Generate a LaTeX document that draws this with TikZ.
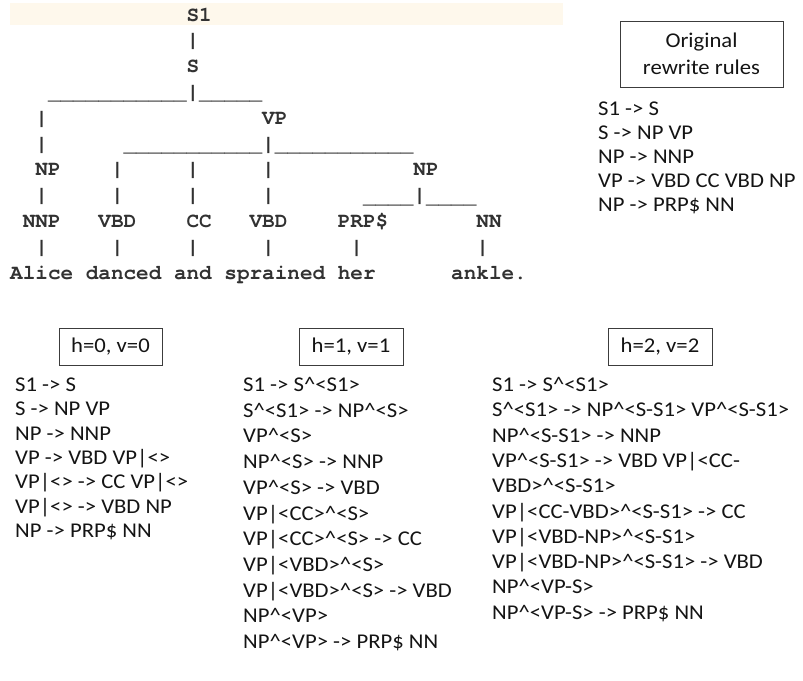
\documentclass[tikz,border=0pt]{standalone}
\usepackage{graphicx}
\usepackage{fontspec}
\setmainfont{Carlito}[FakeStretch=1.08]
\newfontfamily\treefont{TeX Gyre Cursor}
\newcommand\crt{\textasciicircum}
\newcommand\vb{|}
\newcommand\us{\raisebox{-1.5pt}{\_}}
\definecolor{strip}{RGB}{254,248,236}
\definecolor{treeink}{RGB}{50,50,50}
\definecolor{ruleink}{RGB}{20,20,20}
\definecolor{boxline}{RGB}{60,60,60}
\begin{document}
\begin{tikzpicture}[x=1pt,y=-1pt,
  treetxt/.style={anchor=base west,inner sep=0pt,text=treeink,font=\treefont\bfseries\fontsize{21}{21}\selectfont},
  ruletxt/.style={anchor=base west,inner sep=0pt,text=ruleink,font=\fontsize{21}{24}\selectfont},
  labelbox/.style={draw=boxline,line width=1pt,inner sep=0pt,align=center,text=ruleink,font=\fontsize{21}{27}\selectfont}]
\fill[white] (0,0) rectangle (803,680);
\useasboundingbox (0,0) rectangle (803,680);
\fill[strip] (10,3) rectangle (563,25);
% ASCII parse tree
\foreach \c/\l/\t [count=\n] in {
  14/0/S1, 14/1/\vb, 14/2/S,
  3/3/\us\us\us\us\us\us\us\us\us\us\us\vb\us\us\us\us\us,
  2/4/\vb, 20/4/VP,
  2/5/\vb, 9/5/\us\us\us\us\us\us\us\us\us\us\us\vb\us\us\us\us\us\us\us\us\us\us\us,
  2/6/NP, 8/6/\vb, 14/6/\vb, 20/6/\vb, 32/6/NP,
  2/7/\vb, 8/7/\vb, 14/7/\vb, 20/7/\vb, 28/7/\us\us\us\us\vb\us\us\us\us,
  1/8/NNP, 7/8/VBD, 14/8/CC, 19/8/VBD, 26/8/PRP\$, 37/8/NN,
  2/9/\vb, 8/9/\vb, 14/9/\vb, 20/9/\vb, 27/9/\vb, 37/9/\vb,
  0/10/Alice, 6/10/danced, 13/10/and, 17/10/sprained, 26/10/her, 35/10/ankle.}
  \node[treetxt] (t\n) at ({10+12.6*\c},{21+25.8*\l}) {\t};
% Original rules
\node[labelbox,minimum width=163pt,minimum height=66pt] (orig) at (701.5,54) {Original\\rewrite rules};
\foreach \t [count=\i] in {S1 -> S, S -> NP VP, NP -> NNP, VP -> VBD CC VBD NP, NP -> PRP\$ NN}
  \node[ruletxt] (o\i) at (598,{115+24*(\i-1)}) {\t};
% h=0, v=0
\node[labelbox,minimum width=103pt,minimum height=37pt] (hz) at (110.5,346.5) {h=0, v=0};
\foreach \t [count=\i] in {S1 -> S, S -> NP VP, NP -> NNP, VP -> VBD VP|<>, VP|<> -> CC VP|<>, VP|<> -> VBD NP, NP -> PRP\$ NN}
  \node[ruletxt] (a\i) at (15,{391.5+24.3*(\i-1)}) {\t};
% h=1, v=1
\node[labelbox,minimum width=104pt,minimum height=37pt] (ho) at (351,346.5) {h=1, v=1};
\foreach \t [count=\i] in {S1 -> S\crt<S1>, S\crt<S1> -> NP\crt<S>, VP\crt<S>, NP\crt<S> -> NNP, VP\crt<S> -> VBD, VP|<CC>\crt<S>, VP|<CC>\crt<S> -> CC, VP|<VBD>\crt<S>, VP|<VBD>\crt<S> -> VBD, NP\crt<VP>, NP\crt<VP> -> PRP\$ NN}
  \node[ruletxt] (b\i) at (243,{391.5+25.7*(\i-1)}) {\t};
% h=2, v=2
\node[labelbox,minimum width=104pt,minimum height=37pt] (ht) at (660,346.5) {h=2, v=2};
\foreach \t [count=\i] in {S1 -> S\crt<S1>, S\crt<S1> -> NP\crt<S-S1> VP\crt<S-S1>, NP\crt<S-S1> -> NNP, VP\crt<S-S1> -> VBD VP|<CC-, VBD>\crt<S-S1>, VP|<CC-VBD>\crt<S-S1> -> CC, VP|<VBD-NP>\crt<S-S1>, VP|<VBD-NP>\crt<S-S1> -> VBD, NP\crt<VP-S>, NP\crt<VP-S> -> PRP\$ NN}
  \node[ruletxt] (c\i) at (492,{391.5+25.3*(\i-1)}) {\t};
\end{tikzpicture}
\end{document}
